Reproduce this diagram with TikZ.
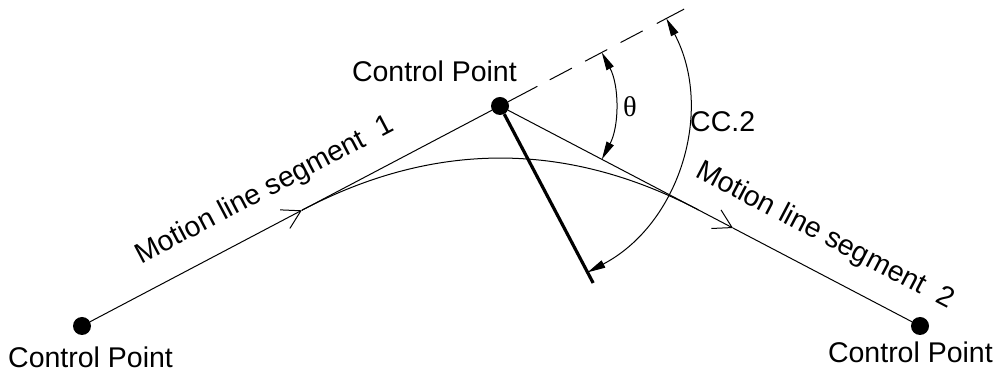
\documentclass[tikz,border=0pt]{standalone}
\usepackage{fontspec}
\setmainfont{Liberation Sans}
\newfontfamily\greekfont{Liberation Serif}
\usepackage{tikz}
\usetikzlibrary{arrows.meta,calc}

\begin{document}
\begin{tikzpicture}[
  x=1pt,y=1pt,
  dot/.style={circle,fill=black,inner sep=0pt,minimum size=18pt},
  seg/.style={line width=1pt},
  flow/.style={seg,-{Straight Barb[length=18pt,width=21pt]}},
  dim/.style={line width=1pt,{Triangle[length=18pt,width=8pt]}-{Triangle[length=18pt,width=8pt]}},
  lbl/.style={font=\fontsize{28.5}{34}\selectfont,inner sep=0pt}]
\useasboundingbox (0,0) rectangle (998,374);
\def\segang{27.76}
\def\segangB{-27.65}
% control points
\node[dot] (cpA) at (82,48) {};
\node[dot] (cpB) at (500,268) {};
\node[dot] (cpC) at (920,48) {};
\coordinate (tA) at ($(cpB.center)!224pt!(cpA.center)$);
\coordinate (tC) at ($(cpB.center)!224pt!(cpC.center)$);
\coordinate (mC) at ($(cpB.center)!263pt!(cpC.center)$);
\coordinate (dashEnd) at ($(cpB.center)!-208pt!(cpA.center)$);
\coordinate (normEnd) at ($(cpB.center)!200pt!90:(cpA.center)$);
% motion lines and blend curve
\draw[flow] (cpA) -- (tA);
\draw[seg] (tA) -- (cpB);
\draw[flow] (cpB) -- (mC);
\draw[seg] (mC) -- (cpC);
\draw[seg] (tA) .. controls ($(tA)!2/3!(cpB.center)$) and ($(tC)!2/3!(cpB.center)$) .. (tC);
\draw[seg,dash pattern=on 33pt off 14pt on 25pt off 15pt on 25pt off 15pt on 25pt off 16pt on 31pt off 20pt] (cpB) -- (dashEnd);
\draw[line width=3.2pt] (cpB) -- (normEnd);
% angles
\draw[dim] ([shift={(\segang:115pt)}]cpB.center) arc[start angle=\segang,end angle=\segangB,radius=115pt];
\draw[dim] ([shift={(\segang:188pt)}]cpB.center) arc[start angle=\segang,end angle=\segang-90,radius=188pt];
\node[lbl] (thetaLbl) at (630,267) {\greekfont θ};
\node[lbl,anchor=base west] (ccLbl) at (690,242) {CC.2};
% labels
\node[lbl,anchor=base east] (cpBLbl) at (517,292) {Control Point};
\node[lbl,anchor=base west] (cpALbl) at (8,6) {Control Point};
\node[lbl,anchor=base east] (cpCLbl) at (993,11) {Control Point};
\coordinate (sA) at ($(cpA.center)!225pt!(cpB.center)$);
\coordinate (sC) at ($(cpB.center)!348pt!(cpC.center)$);
\node[lbl,rotate=\segang,anchor=base] (segOneLbl) at ($(sA)!27pt!90:(cpB.center)$) {Motion line segment\ \ 1};
\node[lbl,rotate=\segangB,anchor=base] (segTwoLbl) at ($(sC)!28pt!90:(cpC.center)$) {Motion line segment\ \ 2};
\end{tikzpicture}
\end{document}
